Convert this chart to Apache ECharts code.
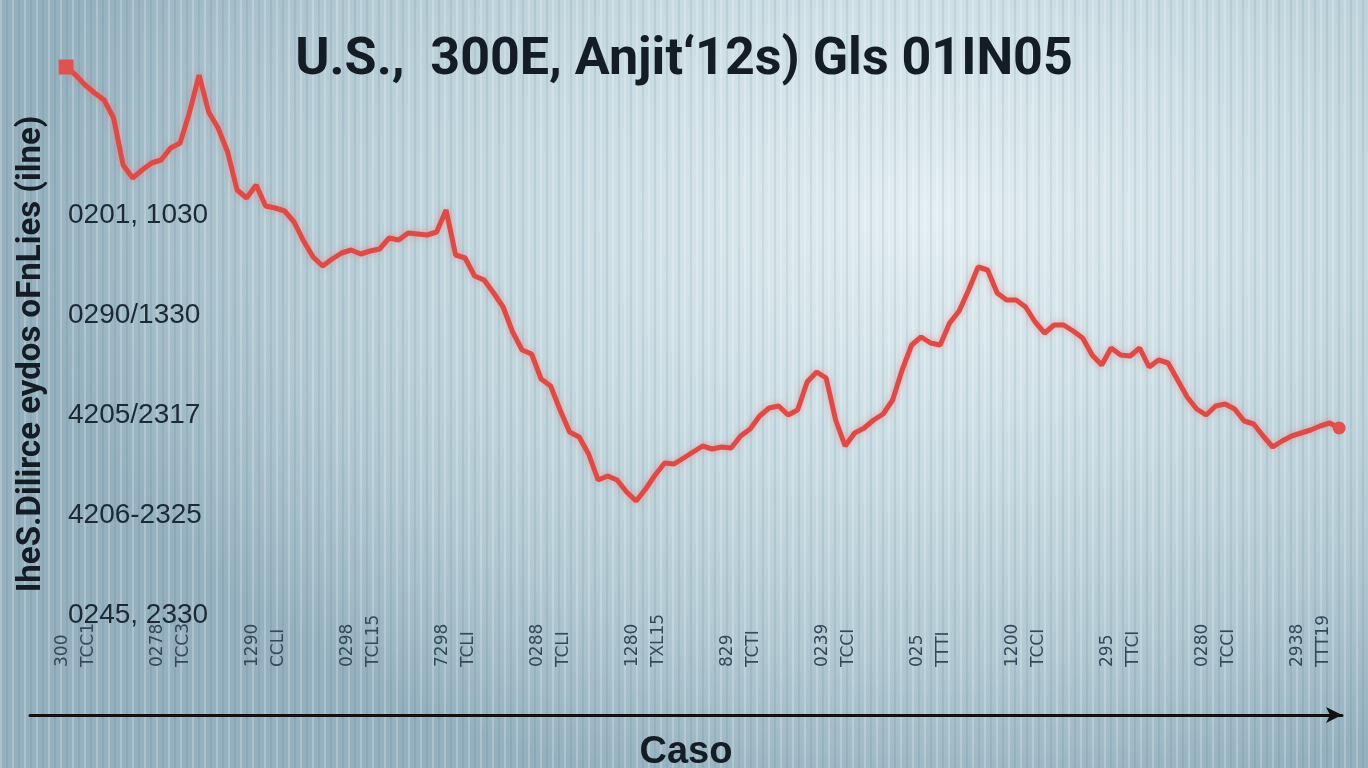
<!DOCTYPE html>
<html>
<head>
<meta charset="utf-8">
<script src="https://cdn.jsdelivr.net/npm/echarts@6/dist/echarts.min.js"></script>
<style>
html,body{margin:0;padding:0;width:1368px;height:768px;overflow:hidden;}
body{
  background:
    repeating-linear-gradient(90deg, rgba(255,255,255,0.22) 0px, rgba(255,255,255,0.22) 2px, rgba(0,0,0,0) 2px, rgba(0,0,0,0) 6px, rgba(60,90,110,0.10) 6px, rgba(60,90,110,0.10) 8px, rgba(0,0,0,0) 8px, rgba(0,0,0,0) 12px),
    radial-gradient(ellipse 900px 600px at 68% 28%, #e3eef2 0%, #cbdde4 40%, #b1c8d2 75%, #95b1bf 100%);
}
#chart{width:1368px;height:768px;}
</style>
</head>
<body>
<div id="chart"></div>
<script>
// ---- data ----
const titleText = 'U.S.,  300E, Anjit\u201812s) Gls 01IN05';
const xAxisName = 'Caso';
const yAxisName = 'IheS.Dilirce eydos oFnLies (ilne)';

// y tick labels, bottom to top
const yTickLabels = ['0245, 2330', '4206-2325', '4205/2317', '0290/1330', '0201, 1030'];
const yTickValues = [0, 1, 2, 3, 4];

// x tick labels (two lines each) and the data index where each sits
const xTickLabels = [
  '300\nTCC1', '0278\nTCC3', '1290\nCCLI', '0298\nTCL15', '7298\nTCLI',
  '0288\nTCLI', '1280\nTXL15', '829\nTCTI', '0239\nTCCI', '025\nTTTI',
  '1200\nTCCI', '295\nTTCI', '0280\nTCCI', '2938\nTTT19'
];
const xTickPositions = [1, 11, 21, 31, 41, 51, 61, 71, 81, 91, 101, 111, 121, 131];

// series values, one per step
const seriesValues = [
  5.48, 5.40, 5.30, 5.22, 5.15, 4.97, 4.50, 4.37, 4.45, 4.52,
  4.55, 4.67, 4.72, 5.03, 5.40, 5.03, 4.87, 4.63, 4.25, 4.17,
  4.30, 4.09, 4.07, 4.04, 3.93, 3.74, 3.58, 3.49, 3.56, 3.62,
  3.65, 3.61, 3.64, 3.66, 3.77, 3.75, 3.82, 3.81, 3.80, 3.83,
  4.05, 3.60, 3.57, 3.39, 3.35, 3.22, 3.08, 2.83, 2.65, 2.61,
  2.36, 2.29, 2.05, 1.83, 1.78, 1.61, 1.35, 1.39, 1.35, 1.23,
  1.14, 1.26, 1.40, 1.52, 1.51, 1.57, 1.63, 1.69, 1.66, 1.68,
  1.67, 1.79, 1.86, 1.99, 2.07, 2.09, 2.00, 2.05, 2.33, 2.43,
  2.37, 1.95, 1.69, 1.82, 1.87, 1.95, 2.01, 2.15, 2.45, 2.70,
  2.78, 2.72, 2.70, 2.92, 3.04, 3.25, 3.48, 3.45, 3.22, 3.15,
  3.15, 3.08, 2.93, 2.82, 2.90, 2.90, 2.84, 2.77, 2.60, 2.50,
  2.67, 2.60, 2.59, 2.67, 2.48, 2.55, 2.52, 2.35, 2.18, 2.06,
  2.00, 2.09, 2.11, 2.06, 1.94, 1.91, 1.79, 1.68, 1.74, 1.79,
  1.82, 1.85, 1.89, 1.92, 1.87
];

const lastIdx = seriesValues.length - 1;
const lineData = seriesValues.map((v, i) => [i, v]);

const chart = echarts.init(document.getElementById('chart'), null, {renderer: 'canvas'});
chart.setOption({
  backgroundColor: 'transparent',
  animation: false,
  title: {
    text: titleText,
    left: 'center',
    top: 30,
    textStyle: {
      fontFamily: 'Roboto, "Liberation Sans", sans-serif',
      fontSize: 52,
      fontWeight: 'bold',
      color: '#141c26'
    }
  },
  grid: {left: 30, right: 26, top: 65, bottom: 53, containLabel: false, outerBoundsMode: 'none'},
  xAxis: {
    type: 'value',
    min: -3.8,
    max: 134.3,
    name: xAxisName,
    nameLocation: 'middle',
    nameGap: 19,
    nameTextStyle: {
      fontFamily: '"Liberation Sans", Arial, sans-serif',
      fontSize: 38,
      fontWeight: 'bold',
      color: '#141c26',
      verticalAlign: 'top'
    },
    axisLine: {
      show: true,
      onZero: false,
      symbol: ['none', 'arrow'],
      symbolSize: [12, 16],
      lineStyle: {color: '#111', width: 3}
    },
    axisTick: {show: false},
    splitLine: {show: false},
    axisLabel: {
      inside: true,
      rotate: 90,
      margin: 48,
      customValues: xTickPositions,
      formatter: function (v) {
        const k = xTickPositions.indexOf(Math.round(v));
        return k >= 0 ? xTickLabels[k] : '';
      },
      fontFamily: '"DejaVu Sans", sans-serif',
      fontSize: 17,
      lineHeight: 26,
      color: '#34495a'
    }
  },
  yAxis: {
    type: 'value',
    min: -1,
    max: 5.5,
    name: yAxisName,
    nameLocation: 'middle',
    nameRotate: 90,
    nameGap: -18,
    nameTextStyle: {
      fontFamily: 'Roboto, "Liberation Sans", sans-serif',
      fontSize: 33,
      fontWeight: 'bold',
      color: '#141c26',
      padding: [0, 0, 0, 72]
    },
    axisLine: {show: false},
    axisTick: {show: false},
    splitLine: {show: false},
    axisLabel: {
      inside: true,
      margin: 38,
      customValues: yTickValues,
      formatter: function (v) {
        const k = yTickValues.indexOf(Math.round(v));
        return k >= 0 ? yTickLabels[k] : '';
      },
      fontFamily: '"Liberation Sans", Arial, sans-serif',
      fontSize: 28,
      color: '#1c2a36'
    }
  },
  series: [{
    type: 'line',
    data: lineData,
    showSymbol: true,
    symbol: function (val, params) {
      if (params.dataIndex === 0) return 'rect';
      if (params.dataIndex === lastIdx) return 'circle';
      return 'none';
    },
    symbolSize: function (val, params) {
      return params.dataIndex === 0 ? 15 : 13;
    },
    itemStyle: {color: '#e0524d', borderWidth: 0},
    lineStyle: {
      color: '#dd4b47',
      width: 5,
      shadowColor: 'rgba(255,110,110,0.55)',
      shadowBlur: 6
    },
    z: 5
  }]
});
</script>
</body>
</html>
